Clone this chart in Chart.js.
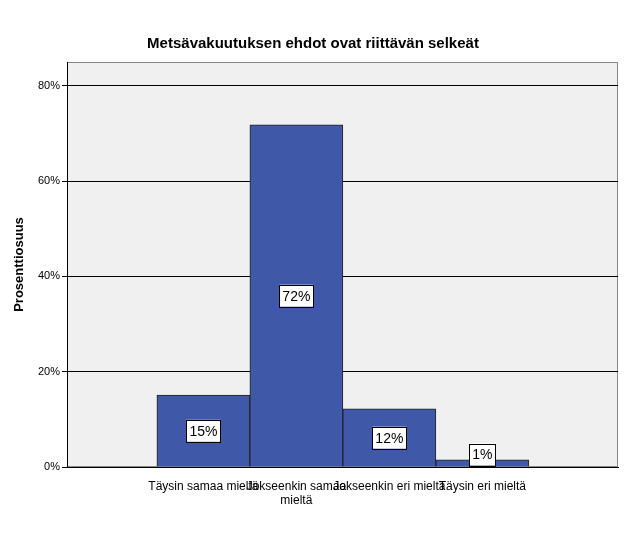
<!DOCTYPE html><html><head><meta charset="utf-8">
<script src="https://cdn.jsdelivr.net/npm/chart.js@4"></script>
<style>html,body{margin:0;background:#fff}#w{width:626px;height:541px}</style></head><body><div id="w"><canvas id="c"></canvas></div>
<script>
const categories=[["Täysin samaa mieltä"],["Jokseenkin samaa","mieltä"],["Jokseenkin eri mieltä"],["Täysin eri mieltä"]];
const values=[15.1,71.8,12.2,1.5];
const labels=["15%","72%","12%","1%"];
const title="Metsävakuutuksen ehdot ovat riittävän selkeät";
const bgPlug={id:'bg',beforeDraw(c){const a=c.chartArea,x=c.ctx;x.save();x.fillStyle='#f0f0f0';x.fillRect(a.left,a.top,a.right-a.left,a.bottom-a.top);x.strokeStyle='#888';x.lineWidth=1;x.strokeRect(a.left+.5,a.top+.5,a.right-a.left-1,a.bottom-a.top-1);x.restore();},
afterDraw(c){const x=c.ctx;x.save();x.font='bold 15px Arial, "Liberation Sans"';x.fillStyle='#000';x.textAlign='center';x.textBaseline='middle';x.fillText(title,313,44);
const m=c.getDatasetMeta(0);x.font='14px Arial, "Liberation Sans"';
m.data.forEach((b,i)=>{const t=labels[i];const w=x.measureText(t).width+6,h=22;let cy=(b.y+b.base)/2;if(cy+h/2>b.base-0)cy=b.base-h/2-1;
x.fillStyle='#fff';x.fillRect(b.x-w/2,cy-h/2,w,h);x.strokeStyle='#000';x.lineWidth=1;x.strokeRect(Math.round(b.x-w/2)+.5,Math.round(cy-h/2)+.5,Math.round(w),h);x.fillStyle='#000';x.fillText(t,b.x,cy+1);});x.restore();}};
new Chart(document.getElementById('c'),{type:'bar',data:{datasets:[{data:values.map((v,i)=>({x:i,y:v})),backgroundColor:'#3f58a8',borderColor:'#222',borderWidth:1,barThickness:93}]},
options:{responsive:true,maintainAspectRatio:false,animation:false,layout:{padding:{top:62,right:8,left:12,bottom:0}},
plugins:{legend:{display:false},tooltip:{enabled:false}},
scales:{x:{type:'linear',min:-0.726,max:3.718,afterFit(s){s.height=74},afterBuildTicks(s){s.ticks=[0,1,2,3].map(v=>({value:v}))},grid:{display:false},border:{color:'#000'},ticks:{color:'#000',font:{size:12,family:'Arial, "Liberation Sans"'},maxRotation:0,padding:4,autoSkip:false,callback:v=>categories[v]}},
y:{min:0,max:85,afterFit(s){s.width=55},afterBuildTicks(s){s.ticks=[0,20,40,60,80].map(v=>({value:v}))},grid:{color:'#000',tickLength:5,tickColor:'#000'},border:{color:'#000'},
ticks:{color:'#000',font:{size:11,family:'Arial, "Liberation Sans"'},padding:2,callback:v=>v+'%'},
title:{display:true,text:'Prosenttiosuus',color:'#000',font:{size:13,weight:'bold',family:'Arial, "Liberation Sans"'},padding:{top:0,bottom:4}}}}},plugins:[bgPlug]});
</script></body></html>
